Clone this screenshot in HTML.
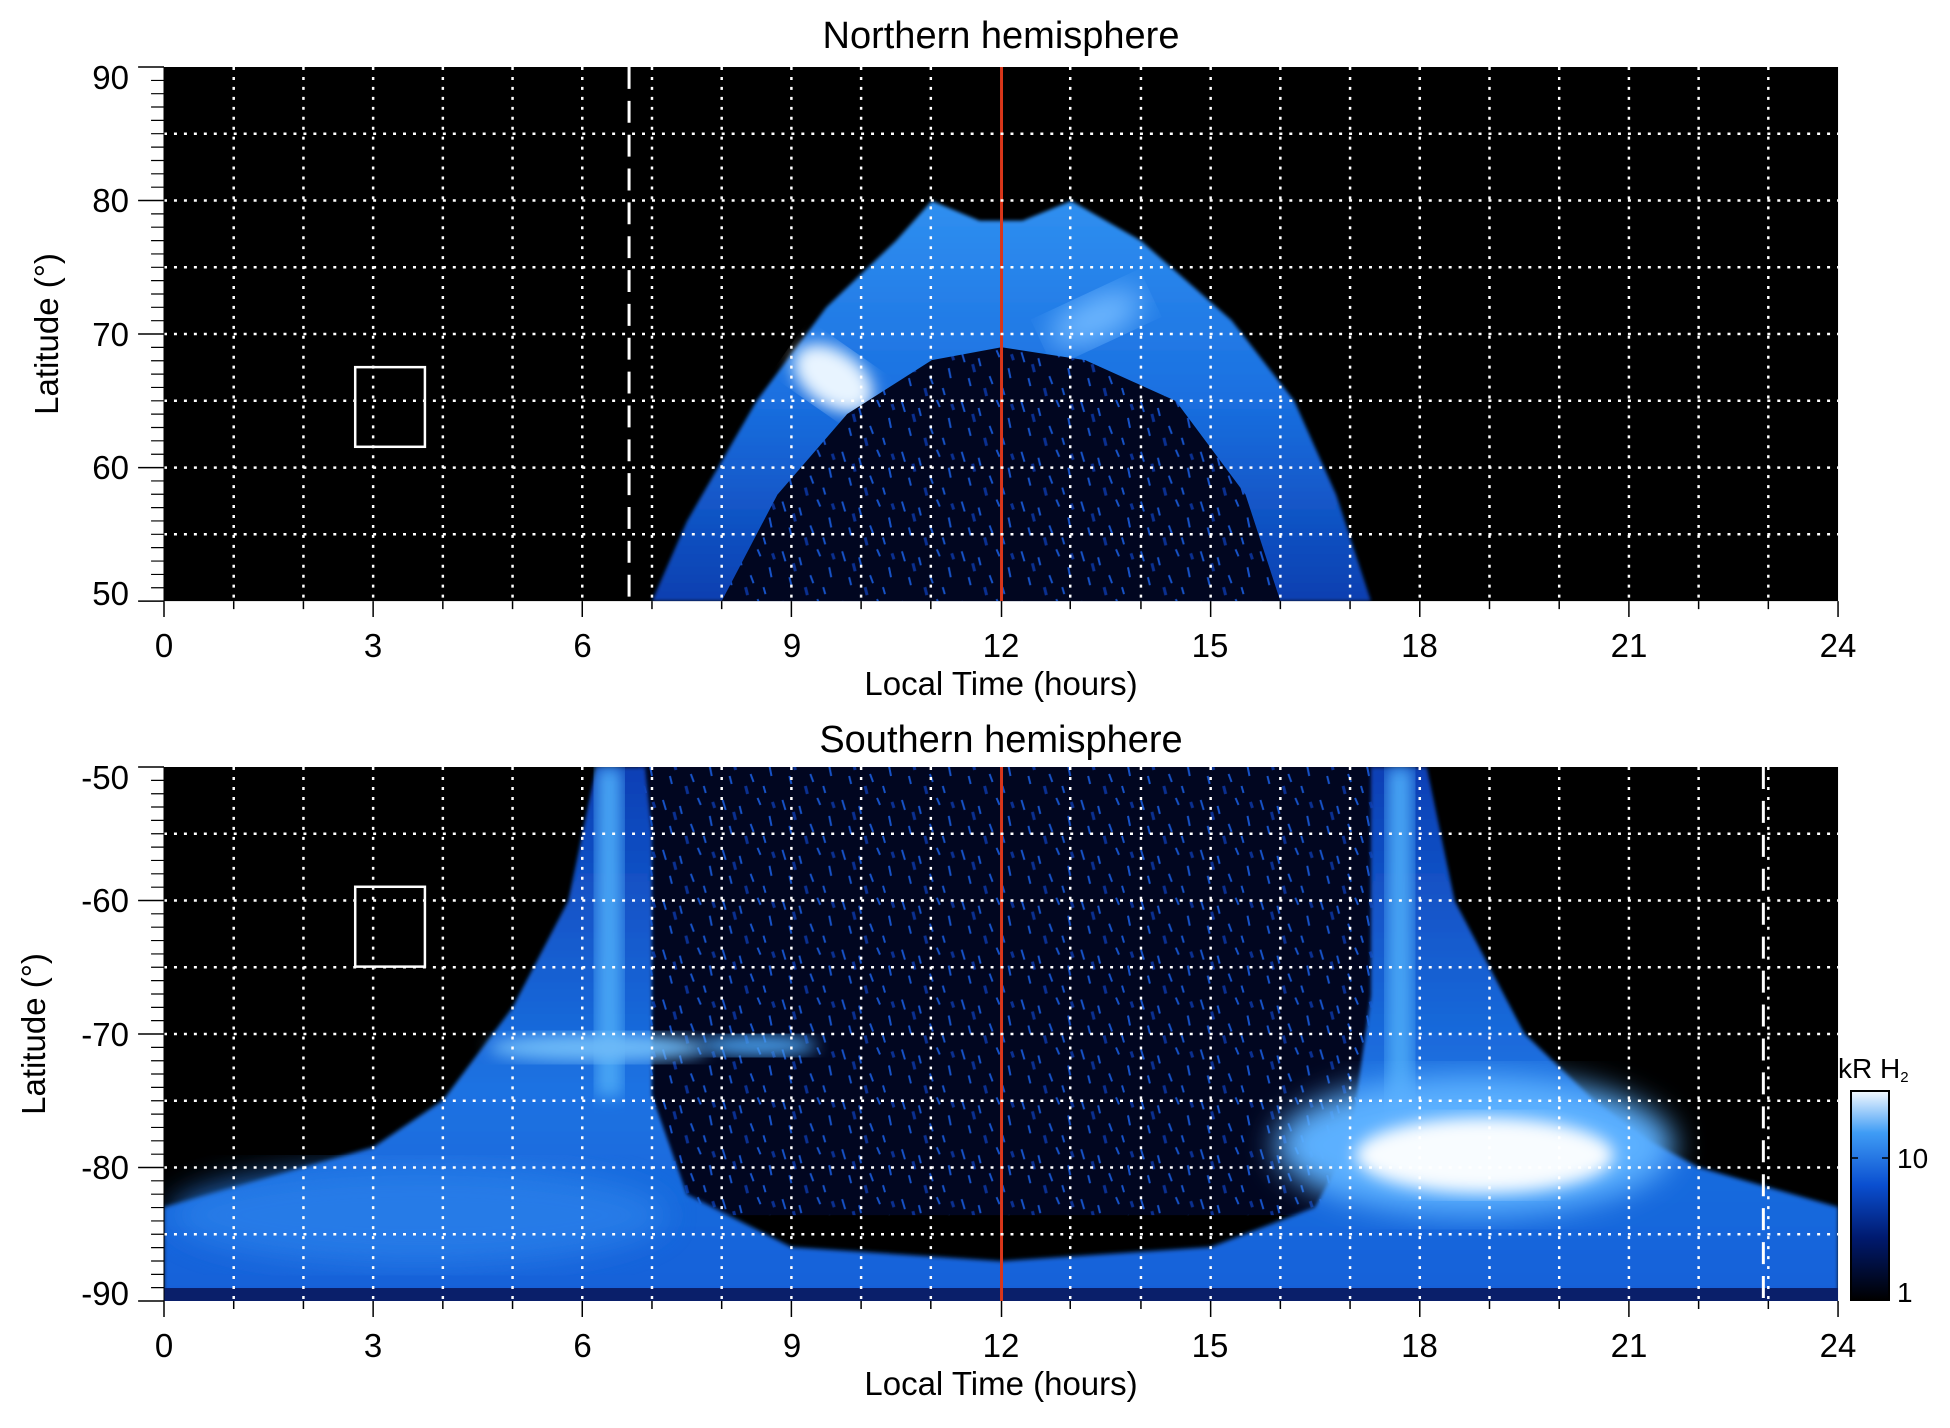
<!DOCTYPE html>
<html><head><meta charset="utf-8"><style>
html,body{margin:0;padding:0;background:#fff;}
svg text{font-family:"Liberation Sans",sans-serif;fill:#000;}
</style></head><body>
<svg width="1950" height="1423" viewBox="0 0 1950 1423" xmlns="http://www.w3.org/2000/svg">
<defs>
<filter id="b2"><feGaussianBlur stdDeviation="2"/></filter>
<filter id="b8"><feGaussianBlur stdDeviation="8"/></filter>
<filter id="b15"><feGaussianBlur stdDeviation="15"/></filter>
<linearGradient id="ringN" x1="0" y1="0" x2="0" y2="1">
<stop offset="0" stop-color="#2f8ff0"/><stop offset="0.5" stop-color="#1a6fe0"/><stop offset="1" stop-color="#0a3fb0"/></linearGradient>
<linearGradient id="ringS" x1="0" y1="0" x2="0" y2="1">
<stop offset="0" stop-color="#0c3fb5"/><stop offset="0.6" stop-color="#1c72e2"/><stop offset="1" stop-color="#1560d8"/></linearGradient>
<linearGradient id="cb" x1="0" y1="1" x2="0" y2="0">
<stop offset="0" stop-color="#000"/><stop offset="0.3" stop-color="#001a70"/><stop offset="0.55" stop-color="#0a4fd0"/><stop offset="0.8" stop-color="#3f9cf5"/><stop offset="1" stop-color="#f4f9ff"/></linearGradient>
<pattern id="noise" width="60" height="50" patternUnits="userSpaceOnUse">
<rect width="60" height="50" fill="#010620"/>
<g stroke="#1652c8" stroke-width="2">
<line x1="5" y1="4" x2="8" y2="14"/><line x1="22" y1="10" x2="24" y2="18"/><line x1="40" y1="2" x2="43" y2="9"/>
<line x1="52" y1="20" x2="54" y2="30"/><line x1="12" y1="30" x2="14" y2="38"/><line x1="33" y1="28" x2="36" y2="36"/>
<line x1="46" y1="40" x2="48" y2="47"/></g>
<g stroke="#0a2f90" stroke-width="3"><line x1="28" y1="40" x2="30" y2="48"/><line x1="16" y1="16" x2="18" y2="24"/><line x1="55" y1="6" x2="57" y2="12"/></g>
</pattern>
</defs>

<!-- NORTH -->
<text x="1001" y="48" font-size="38" text-anchor="middle">Northern hemisphere</text>
<g transform="translate(164,67) scale(0.99586,0.99553) translate(-164,-67.5)">
<rect x="164" y="67.5" width="1681" height="536.5" fill="#000"/>
<clipPath id="cN"><rect x="164" y="67.5" width="1681" height="536.5"/></clipPath>
<g clip-path="url(#cN)">
<polygon fill="url(#ringN)" filter="url(#b2)" points="654,604 689,524 759,403 829,309 899,242 935,202 983,222 1026,222 1075,202 1145,242 1236,322 1299,403 1341,497 1376,604"/>
<ellipse cx="836" cy="380" rx="45" ry="28" fill="#e8f4ff" transform="rotate(35 836 380)" filter="url(#b8)"/>
<ellipse cx="1100" cy="320" rx="50" ry="22" fill="#6fb8ff" transform="rotate(-25 1100 320)" filter="url(#b15)"/>
<polygon fill="url(#noise)" points="724,604 780,497 850,416 935,362 1005,349 1089,362 1180,403 1250,497 1285,604"/>
</g>
<line x1="1005" y1="67.5" x2="1005" y2="604" stroke="#d9361a" stroke-width="3"/>
<line x1="631" y1="67.5" x2="631" y2="604" stroke="#fff" stroke-width="3" stroke-dasharray="22,12"/>
<rect x="356" y="369" width="70" height="80" fill="none" stroke="#fff" stroke-width="2.5"/>
<g stroke="#fff" stroke-width="2.5" stroke-dasharray="3,7">
<line x1="234" y1="67.5" x2="234" y2="604"/><line x1="304" y1="67.5" x2="304" y2="604"/><line x1="374" y1="67.5" x2="374" y2="604"/><line x1="444" y1="67.5" x2="444" y2="604"/><line x1="514" y1="67.5" x2="514" y2="604"/><line x1="584" y1="67.5" x2="584" y2="604"/><line x1="654" y1="67.5" x2="654" y2="604"/><line x1="724" y1="67.5" x2="724" y2="604"/><line x1="794" y1="67.5" x2="794" y2="604"/><line x1="864" y1="67.5" x2="864" y2="604"/><line x1="934" y1="67.5" x2="934" y2="604"/><line x1="1074" y1="67.5" x2="1074" y2="604"/><line x1="1145" y1="67.5" x2="1145" y2="604"/><line x1="1215" y1="67.5" x2="1215" y2="604"/><line x1="1285" y1="67.5" x2="1285" y2="604"/><line x1="1355" y1="67.5" x2="1355" y2="604"/><line x1="1425" y1="67.5" x2="1425" y2="604"/><line x1="1495" y1="67.5" x2="1495" y2="604"/><line x1="1565" y1="67.5" x2="1565" y2="604"/><line x1="1635" y1="67.5" x2="1635" y2="604"/><line x1="1705" y1="67.5" x2="1705" y2="604"/><line x1="1775" y1="67.5" x2="1775" y2="604"/>
<line x1="164" y1="134.5" x2="1845" y2="134.5"/><line x1="164" y1="201.6" x2="1845" y2="201.6"/><line x1="164" y1="268.7" x2="1845" y2="268.7"/><line x1="164" y1="335.7" x2="1845" y2="335.7"/><line x1="164" y1="402.8" x2="1845" y2="402.8"/><line x1="164" y1="469.9" x2="1845" y2="469.9"/><line x1="164" y1="536.9" x2="1845" y2="536.9"/>
</g>
<path d="M164 67.5 V604" stroke="#000" stroke-width="1"/>
<g stroke="#000" stroke-width="1.5">
<path d="M138 67.5h26 M138 201.6h26 M138 335.7h26 M138 469.9h26 M138 604h26"/>
</g>
<g stroke="#000" stroke-width="1.2">
<path d="M151 81 h13 M151 94.3 h13 M151 107.7 h13 M151 121.1 h13 M151 134.5 h13 M151 148 h13 M151 161.4 h13 M151 174.8 h13 M151 188.2 h13 M151 215 h13 M151 228.4 h13 M151 241.9 h13 M151 255.3 h13 M151 268.7 h13 M151 282.1 h13 M151 295.5 h13 M151 308.9 h13 M151 322.3 h13 M151 349.1 h13 M151 362.6 h13 M151 376 h13 M151 389.4 h13 M151 402.8 h13 M151 416.2 h13 M151 429.6 h13 M151 443 h13 M151 456.5 h13 M151 483.3 h13 M151 496.7 h13 M151 510.1 h13 M151 523.5 h13 M151 536.9 h13 M151 550.3 h13 M151 563.8 h13 M151 577.2 h13 M151 590.6 h13"/>
</g>
<g stroke="#000" stroke-width="1.5">
<path d="M164 604v16 M234 604v8 M304 604v8 M374 604v16 M444 604v8 M514 604v8 M584 604v16 M654 604v8 M724 604v8 M794 604v16 M864 604v8 M934 604v8 M1005 604v16 M1074 604v8 M1145 604v8 M1215 604v16 M1285 604v8 M1355 604v8 M1425 604v16 M1495 604v8 M1565 604v8 M1635 604v16 M1705 604v8 M1775 604v8 M1845 604v16"/>
</g>
</g>
<g font-size="33" text-anchor="end">
<text x="129" y="89">90</text><text x="129" y="212">80</text><text x="129" y="346">70</text><text x="129" y="479">60</text><text x="129" y="605">50</text>
</g>
<g font-size="33" text-anchor="middle">
<text x="164" y="657">0</text><text x="373" y="657">3</text><text x="582.5" y="657">6</text><text x="792" y="657">9</text><text x="1001" y="657">12</text><text x="1210" y="657">15</text><text x="1419.5" y="657">18</text><text x="1629" y="657">21</text><text x="1838" y="657">24</text>
</g>
<text x="1001" y="695" font-size="33" text-anchor="middle">Local Time (hours)</text>
<text transform="translate(58 334) rotate(-90)" font-size="33" text-anchor="middle">Latitude (°)</text>

<!-- SOUTH -->
<text x="1001" y="752" font-size="38" text-anchor="middle">Southern hemisphere</text>
<g transform="translate(164,767) scale(0.99586,0.99813) translate(-164,-771)">
<rect x="164" y="771" width="1681" height="535" fill="#000"/>
<clipPath id="cS"><rect x="164" y="771" width="1681" height="535"/></clipPath>
<g clip-path="url(#cS)">
<polygon fill="url(#noise)" points="640,771 1385,771 1385,1220 640,1220"/>
<polygon fill="url(#ringS)" filter="url(#b2)" points="164,1212 234,1192 304,1172 374,1152 444,1105 514,1012 570,905 598,771 647,771 654,838 654,1100 689,1199 794,1252 1005,1266 1215,1252 1320,1212 1355,1146 1376,1000 1376,771 1432,771 1460,905 1530,1038 1600,1105 1656,1146 1705,1172 1775,1192 1845,1212 1845,1306 164,1306"/>
<rect x="598" y="771" width="26" height="330" fill="#4aa6f5" filter="url(#b8)"/>
<rect x="1392" y="771" width="26" height="360" fill="#4aa6f5" filter="url(#b8)"/>
<ellipse cx="600" cy="1052" rx="110" ry="14" fill="#6dbaf8" filter="url(#b8)"/>
<ellipse cx="760" cy="1050" rx="60" ry="10" fill="#4aa0f0" filter="url(#b8)"/>
<ellipse cx="1480" cy="1150" rx="200" ry="70" fill="#5cb0ff" filter="url(#b15)"/>
<ellipse cx="1490" cy="1160" rx="130" ry="38" fill="#f8fcff" filter="url(#b8)"/>
<ellipse cx="420" cy="1220" rx="250" ry="50" fill="#2a80ea" filter="url(#b15)" opacity="0.8"/>
<rect x="164" y="1293" width="1681" height="13" fill="#0a1f6a"/>
</g>
<line x1="1005" y1="771" x2="1005" y2="1306" stroke="#d9361a" stroke-width="3"/>
<line x1="1770" y1="771" x2="1770" y2="1306" stroke="#fff" stroke-width="3" stroke-dasharray="22,12"/>
<rect x="356" y="891" width="70" height="80" fill="none" stroke="#fff" stroke-width="2.5"/>
<g stroke="#fff" stroke-width="2.5" stroke-dasharray="3,7">
<line x1="234" y1="771" x2="234" y2="1306"/><line x1="304" y1="771" x2="304" y2="1306"/><line x1="374" y1="771" x2="374" y2="1306"/><line x1="444" y1="771" x2="444" y2="1306"/><line x1="514" y1="771" x2="514" y2="1306"/><line x1="584" y1="771" x2="584" y2="1306"/><line x1="654" y1="771" x2="654" y2="1306"/><line x1="724" y1="771" x2="724" y2="1306"/><line x1="794" y1="771" x2="794" y2="1306"/><line x1="864" y1="771" x2="864" y2="1306"/><line x1="934" y1="771" x2="934" y2="1306"/><line x1="1074" y1="771" x2="1074" y2="1306"/><line x1="1145" y1="771" x2="1145" y2="1306"/><line x1="1215" y1="771" x2="1215" y2="1306"/><line x1="1285" y1="771" x2="1285" y2="1306"/><line x1="1355" y1="771" x2="1355" y2="1306"/><line x1="1425" y1="771" x2="1425" y2="1306"/><line x1="1495" y1="771" x2="1495" y2="1306"/><line x1="1565" y1="771" x2="1565" y2="1306"/><line x1="1635" y1="771" x2="1635" y2="1306"/><line x1="1705" y1="771" x2="1705" y2="1306"/><line x1="1775" y1="771" x2="1775" y2="1306"/>
<line x1="164" y1="837.9" x2="1845" y2="837.9"/><line x1="164" y1="904.8" x2="1845" y2="904.8"/><line x1="164" y1="971.6" x2="1845" y2="971.6"/><line x1="164" y1="1038.5" x2="1845" y2="1038.5"/><line x1="164" y1="1105.4" x2="1845" y2="1105.4"/><line x1="164" y1="1172.3" x2="1845" y2="1172.3"/><line x1="164" y1="1239.1" x2="1845" y2="1239.1"/>
</g>
<path d="M164 771 V1306" stroke="#000" stroke-width="1"/>
<g stroke="#000" stroke-width="1.5">
<path d="M138 771h26 M138 904.8h26 M138 1038.5h26 M138 1172.3h26 M138 1306h26"/>
</g>
<g stroke="#000" stroke-width="1.2">
<path d="M151 784.4h13 M151 797.8h13 M151 811.1h13 M151 824.5h13 M151 837.9h13 M151 851.3h13 M151 864.6h13 M151 878h13 M151 891.4h13 M151 918.1h13 M151 931.5h13 M151 944.9h13 M151 958.3h13 M151 971.6h13 M151 985h13 M151 998.4h13 M151 1011.8h13 M151 1025.1h13 M151 1051.9h13 M151 1065.3h13 M151 1078.6h13 M151 1092h13 M151 1105.4h13 M151 1118.8h13 M151 1132.1h13 M151 1145.5h13 M151 1158.9h13 M151 1185.6h13 M151 1199h13 M151 1212.4h13 M151 1225.8h13 M151 1239.1h13 M151 1252.5h13 M151 1265.9h13 M151 1279.3h13 M151 1292.6h13"/>
</g>
<g stroke="#000" stroke-width="1.5">
<path d="M164 1306v16 M234 1306v8 M304 1306v8 M374 1306v16 M444 1306v8 M514 1306v8 M584 1306v16 M654 1306v8 M724 1306v8 M794 1306v16 M864 1306v8 M934 1306v8 M1005 1306v16 M1074 1306v8 M1145 1306v8 M1215 1306v16 M1285 1306v8 M1355 1306v8 M1425 1306v16 M1495 1306v8 M1565 1306v8 M1635 1306v16 M1705 1306v8 M1775 1306v8 M1845 1306v16"/>
</g>
</g>
<g font-size="33" text-anchor="end">
<text x="129" y="789">-50</text><text x="129" y="912">-60</text><text x="129" y="1046">-70</text><text x="129" y="1179">-80</text><text x="129" y="1305">-90</text>
</g>
<g font-size="33" text-anchor="middle">
<text x="164" y="1357">0</text><text x="373" y="1357">3</text><text x="582.5" y="1357">6</text><text x="792" y="1357">9</text><text x="1001" y="1357">12</text><text x="1210" y="1357">15</text><text x="1419.5" y="1357">18</text><text x="1629" y="1357">21</text><text x="1838" y="1357">24</text>
</g>
<text x="1001" y="1395" font-size="33" text-anchor="middle">Local Time (hours)</text>
<text transform="translate(45 1034) rotate(-90)" font-size="33" text-anchor="middle">Latitude (°)</text>

<!-- colorbar -->
<rect x="1851" y="1091" width="38" height="209" fill="url(#cb)" stroke="#000" stroke-width="2"/>
<g stroke="#000" stroke-width="1.5"><path d="M1882 1158h7 M1851 1158h7"/></g>
<text x="1897" y="1168" font-size="28">10</text>
<text x="1897" y="1302" font-size="28">1</text>
<text x="1838" y="1078" font-size="28">kR H<tspan font-size="15" dy="4">2</tspan></text>
</svg>
</body></html>
